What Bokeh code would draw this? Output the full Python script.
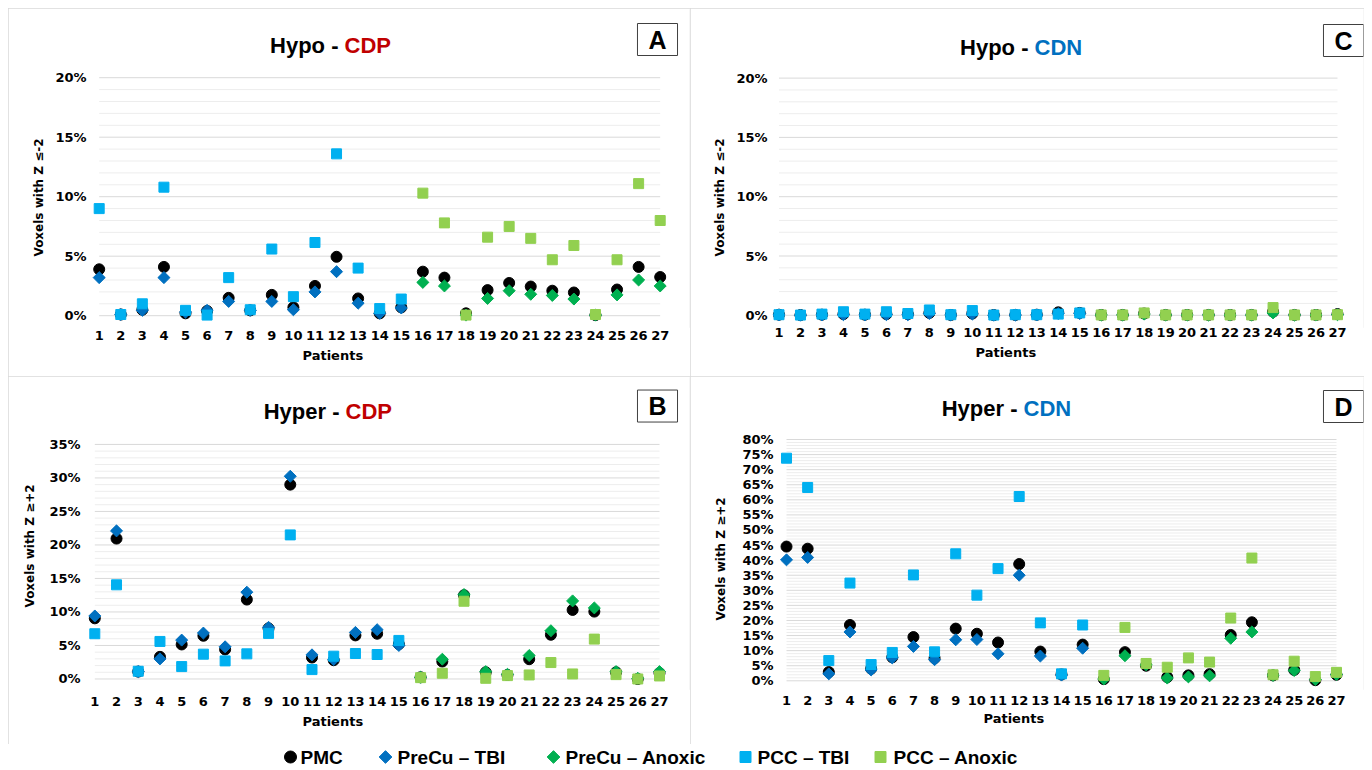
import numpy as np
from bokeh.plotting import figure
from bokeh.models import Range1d, FixedTicker, PrintfTickFormatter, Label, Title, ColumnDataSource, Spacer
from bokeh.layouts import column, row
from bokeh.embed import file_html
from bokeh.resources import INLINE
from bokeh.core.properties import value

# ---------------- data ----------------
patients = [1, 2, 3, 4, 5, 6, 7, 8, 9, 10, 11, 12, 13, 14, 15, 16, 17, 18, 19, 20, 21, 22, 23, 24, 25, 26, 27]
tbi_patients = [1, 2, 3, 4, 5, 6, 7, 8, 9, 10, 11, 12, 13, 14, 15]
anoxic_patients = [16, 17, 18, 19, 20, 21, 22, 23, 24, 25, 26, 27]

series_names = ["PMC", "PreCu \u2013 TBI", "PreCu \u2013 Anoxic", "PCC \u2013 TBI", "PCC \u2013 Anoxic"]
series_colors = ["#000000", "#0070C0", "#00B050", "#00B0F0", "#92D050"]

# Panel A: Hypo - CDP  (% voxels with Z <= -2)
hypo_cdp_pmc = [3.9, 0.1, 0.5, 4.1, 0.2, 0.4, 1.5, 0.45, 1.75, 0.7, 2.5, 4.95, 1.45, 0.2, 0.7,
                3.7, 3.2, 0.2, 2.15, 2.75, 2.45, 2.1, 1.95, 0.05, 2.2, 4.1, 3.25]
hypo_cdp_precu_tbi = [3.2, 0.1, 0.45, 3.2, 0.3, 0.45, 1.2, 0.45, 1.2, 0.5, 2.0, 3.7, 1.05, 0.2, 0.65]
hypo_cdp_pcc_tbi = [9.0, 0.1, 1.0, 10.8, 0.45, 0.05, 3.2, 0.5, 5.6, 1.6, 6.15, 13.6, 4.0, 0.6, 1.4]
hypo_cdp_precu_anox = [2.8, 2.5, 0.05, 1.45, 2.1, 1.8, 1.7, 1.4, 0.05, 1.75, 3.0, 2.5]
hypo_cdp_pcc_anox = [10.3, 7.8, 0.05, 6.6, 7.5, 6.5, 4.7, 5.9, 0.1, 4.7, 11.1, 8.0]

# Panel C: Hypo - CDN
hypo_cdn_pmc = [0.05, 0.02, 0.05, 0.1, 0.05, 0.1, 0.1, 0.2, 0.03, 0.15, 0.02, 0.03, 0.05, 0.25, 0.2,
                0.03, 0.03, 0.15, 0.03, 0.03, 0.03, 0.03, 0.03, 0.3, 0.03, 0.03, 0.1]
hypo_cdn_precu_tbi = [0.03, 0.01, 0.03, 0.05, 0.03, 0.05, 0.05, 0.15, 0.02, 0.1, 0.01, 0.02, 0.03, 0.15, 0.15]
hypo_cdn_pcc_tbi = [0.05, 0.02, 0.1, 0.3, 0.1, 0.3, 0.15, 0.45, 0.05, 0.4, 0.02, 0.05, 0.05, 0.1, 0.2]
hypo_cdn_precu_anox = [0.02, 0.02, 0.1, 0.02, 0.02, 0.02, 0.02, 0.02, 0.2, 0.02, 0.02, 0.05]
hypo_cdn_pcc_anox = [0.03, 0.03, 0.2, 0.03, 0.03, 0.03, 0.03, 0.03, 0.65, 0.03, 0.03, 0.05]

# Panel B: Hyper - CDP  (% voxels with Z >= +2)
hyper_cdp_pmc = [9.05, 20.95, 1.1, 3.3, 5.15, 6.45, 4.4, 11.85, 7.55, 29.0, 3.2, 2.8, 6.5, 6.75, 5.2,
                 0.25, 2.6, 12.5, 1.0, 0.6, 2.95, 6.6, 10.3, 10.05, 1.0, 0.0, 0.9]
hyper_cdp_precu_tbi = [9.4, 22.1, 1.1, 3.0, 5.8, 6.85, 4.8, 12.95, 7.7, 30.25, 3.6, 2.9, 6.95, 7.35, 5.0]
hyper_cdp_pcc_tbi = [6.75, 14.05, 1.15, 5.6, 1.85, 3.7, 2.7, 3.75, 6.8, 21.5, 1.4, 3.4, 3.8, 3.65, 5.75]
hyper_cdp_precu_anox = [0.25, 2.95, 12.6, 1.1, 0.7, 3.5, 7.2, 11.65, 10.6, 1.1, 0.1, 1.1]
hyper_cdp_pcc_anox = [0.2, 0.85, 11.6, 0.1, 0.5, 0.6, 2.45, 0.75, 5.95, 0.65, 0.0, 0.45]

# Panel D: Hyper - CDN
hyper_cdn_pmc = [44.5, 43.8, 2.9, 18.5, 4.0, 7.8, 14.5, 7.5, 17.3, 15.6, 12.7, 38.7, 9.7, 2.1, 12.0,
                 0.55, 9.5, 5.0, 1.2, 1.8, 2.2, 15.2, 19.4, 1.8, 3.6, 0.2, 2.0]
hyper_cdn_precu_tbi = [40.1, 40.9, 2.3, 16.2, 3.6, 7.6, 11.4, 7.0, 13.6, 13.7, 8.95, 35.0, 8.2, 1.9, 10.8]
hyper_cdn_pcc_tbi = [73.8, 64.1, 6.7, 32.4, 5.4, 9.4, 35.1, 9.6, 42.1, 28.4, 37.2, 61.1, 19.2, 2.3, 18.5]
hyper_cdn_precu_anox = [0.6, 8.3, 5.3, 0.9, 1.3, 1.65, 14.1, 16.2, 1.8, 3.4, 0.4, 2.1]
hyper_cdn_pcc_anox = [1.8, 17.7, 5.75, 4.5, 7.6, 6.2, 20.8, 40.7, 2.0, 6.5, 1.4, 2.8]

TICK_FONT = "DejaVu Sans"
TITLE_FONT = "Liberation Sans"
YLAB_HALF = 60      # approx. half length of the rotated y-axis title, px
XLAB_HALF = 30      # approx. half width of "Patients", px


def build_panel(geo, title_left, title_right, title_color, letter, ylabel, ymax,
                pmc, precu_tbi, pcc_tbi, precu_anox, pcc_anox):
    W, H = geo["W"], geo["H"]
    L, R, T, B = geo["L"], geo["R"], geo["T"], geo["B"]
    ox, oy = geo["ox"], geo["oy"]
    # frame edges in page pixels
    fl, fr, ft, fb = ox + L, ox + W - R, oy + T, oy + H - B
    # pixel scales derived from where first/last patient and 0 / ymax sit
    p_first, p_last = patients[0], patients[-1]
    xs = (geo["xlast"] - geo["xfirst"]) / (p_last - p_first)
    ys = (geo["y0"] - geo["ytop"]) / ymax
    x_lo = p_first - (geo["xfirst"] - fl) / xs
    x_hi = p_first + (fr - geo["xfirst"]) / xs
    y_lo = -(fb - geo["y0"]) / ys
    y_hi = (geo["y0"] - ft) / ys

    def dx(px):
        return p_first + (px - geo["xfirst"]) / xs

    def dy(py):
        return (geo["y0"] - py) / ys

    p = figure(width=W, height=H, x_range=Range1d(x_lo, x_hi), y_range=Range1d(y_lo, y_hi),
               output_backend="svg", toolbar_location=None, title=None,
               min_border_left=L, min_border_right=R, min_border_top=T, min_border_bottom=B)
    p.outline_line_color = None
    p.background_fill_color = "white"
    p.border_fill_color = "white"
    p.xgrid.visible = False
    p.ygrid.visible = False
    p.styles = {"outline": "1px solid #D9D9D9", "outline-offset": "-1px"}

    # grid lines spanning first..last patient like the original
    major = list(range(0, ymax + 1, 5))
    minor = [v for v in range(0, ymax + 1) if v % 5]
    p.segment(x0=[p_first] * len(minor), x1=[p_last] * len(minor), y0=minor, y1=minor,
              line_color="#EDEDED", line_width=1)
    p.segment(x0=[p_first] * len(major), x1=[p_last] * len(major), y0=major, y1=major,
              line_color="#D9D9D9", line_width=1)

    # axes
    p.xaxis.ticker = FixedTicker(ticks=patients)
    p.yaxis.ticker = FixedTicker(ticks=major)
    p.yaxis.formatter = PrintfTickFormatter(format="%d%%")
    for ax in (p.xaxis[0], p.yaxis[0]):
        ax.axis_line_color = None
        ax.major_tick_line_color = None
        ax.minor_tick_line_color = None
        ax.major_tick_out = 0
        ax.major_tick_in = 0
        ax.major_label_text_font = TICK_FONT
        ax.major_label_text_font_style = "bold"
        ax.major_label_text_font_size = "13px"
        ax.major_label_text_color = "#000000"
    p.xaxis.major_label_standoff = geo["xts"]
    p.yaxis.major_label_standoff = geo["yts"]

    # axis titles (side titles, start-aligned and offset like the original)
    p.add_layout(Title(text=ylabel, align="left", offset=fb - (geo["ylab_y"] + YLAB_HALF),
                       standoff=geo["ylab_so"], text_font=TICK_FONT, text_font_style="bold",
                       text_font_size="12px", text_color="#000000"), "left")
    p.add_layout(Title(text="Patients", align="left", offset=geo["xlab_x"] - XLAB_HALF - fl,
                       standoff=geo["xlab_so"], text_font=TICK_FONT, text_font_style="bold",
                       text_font_size="13px", text_color="#000000"), "below")

    # markers
    p.scatter(patients, pmc, marker="circle", size=11, color=series_colors[0])
    p.scatter(tbi_patients, precu_tbi, marker="square", angle=np.pi / 4, size=8.5, color=series_colors[1])
    p.scatter(anoxic_patients, precu_anox, marker="square", angle=np.pi / 4, size=8.5, color=series_colors[2])
    p.scatter(tbi_patients, pcc_tbi, marker="square", size=10, color=series_colors[3])
    p.scatter(anoxic_patients, pcc_anox, marker="square", size=10, color=series_colors[4])

    def add_label(text, px, py, align, color, size, **kw):
        p.add_layout(Label(x=dx(px), y=dy(py), text=text, text_align=align, text_baseline="middle",
                           text_color=color, text_font_size=size, text_font=TITLE_FONT,
                           text_font_style="bold", **kw))

    sx, ty = geo["split"], geo["ty"]
    add_label(title_left, sx - 6, ty, "right", "#000000", "22px")
    add_label(title_right, sx, ty, "left", title_color, "22px")
    add_label(letter, geo["bx"], geo["by"], "center", "#000000", "25px",
              border_line_color="#404040", border_line_width=1, background_fill_color="white",
              padding=dict(left=11, right=11, top=2, bottom=2))
    return p


geoA = dict(ox=8, oy=8, W=682, H=368, L=80, R=1, T=1, B=49,
            xfirst=98.7, xlast=659.7, y0=315.2, ytop=77.2, xts=3, yts=2,
            ylab_y=196, ylab_so=13, xlab_x=332, xlab_so=7,
            split=344, ty=45, bx=657, by=39)
geoC = dict(ox=690, oy=8, W=674, H=368, L=78, R=1, T=1, B=49,
            xfirst=778.5, xlast=1337.0, y0=314.8, ytop=77.6, xts=0, yts=1,
            ylab_y=196, ylab_so=13, xlab_x=1005, xlab_so=6,
            split=1034, ty=47, bx=1343, by=40)
geoB = dict(ox=8, oy=376, W=682, H=368, L=75, R=1, T=1, B=50,
            xfirst=94.3, xlast=659.0, y0=683.3, ytop=445.0, xts=7, yts=3,
            ylab_y=552, ylab_so=19, xlab_x=332, xlab_so=6,
            split=345, ty=412, bx=657, by=406)
geoD = dict(ox=690, oy=376, W=674, H=368, L=85, R=1, T=1, B=55,
            xfirst=786.0, xlast=1336.0, y0=680.3, ytop=439.0, xts=6, yts=2,
            ylab_y=560, ylab_so=23, xlab_x=1013, xlab_so=2,
            split=1023, ty=408, bx=1343, by=406)

pA = build_panel(geoA, "Hypo -", "CDP", "#C00000", "A", "Voxels with Z \u2264-2", 20,
                 hypo_cdp_pmc, hypo_cdp_precu_tbi, hypo_cdp_pcc_tbi, hypo_cdp_precu_anox, hypo_cdp_pcc_anox)
pC = build_panel(geoC, "Hypo -", "CDN", "#0070C0", "C", "Voxels with Z \u2264-2", 20,
                 hypo_cdn_pmc, hypo_cdn_precu_tbi, hypo_cdn_pcc_tbi, hypo_cdn_precu_anox, hypo_cdn_pcc_anox)
pB = build_panel(geoB, "Hyper -", "CDP", "#C00000", "B", "Voxels with Z \u2265+2", 35,
                 hyper_cdp_pmc, hyper_cdp_precu_tbi, hyper_cdp_pcc_tbi, hyper_cdp_precu_anox, hyper_cdp_pcc_anox)
pD = build_panel(geoD, "Hyper -", "CDN", "#0070C0", "D", "Voxels with Z \u2265+2", 80,
                 hyper_cdn_pmc, hyper_cdn_precu_tbi, hyper_cdn_pcc_tbi, hyper_cdn_precu_anox, hyper_cdn_pcc_anox)

# ---------------- legend row ----------------
LEG_W, LEG_H = 1356, 25
leg = figure(width=LEG_W, height=LEG_H, x_range=Range1d(0, LEG_W), y_range=Range1d(0, LEG_H),
             output_backend="svg", toolbar_location=None, min_border=0, title=None,
             x_axis_type=None, y_axis_type=None)
leg.outline_line_color = None
leg.grid.visible = False
legend_marker_x = [282, 377, 545, 737, 872]
legend_text_x = [292, 389, 557, 749, 885]
legend_src = ColumnDataSource(dict(
    x=legend_marker_x, y=[LEG_H / 2] * 5,
    marker=["circle", "square", "square", "square", "square"],
    angle=[0, np.pi / 4, np.pi / 4, 0, 0],
    size=[12, 9, 9, 11, 11],
    color=series_colors))
leg.scatter(x="x", y="y", marker="marker", angle="angle", size="size", color="color", source=legend_src)
leg.text(x=legend_text_x, y=[LEG_H / 2] * 5, text=series_names, text_baseline="middle", text_align="left",
         text_font=value(TITLE_FONT), text_font_style="bold", text_font_size="19px", text_color="#000000")

layout = column(Spacer(height=8),
                row(Spacer(width=8), pA, pC),
                row(Spacer(width=8), pB, pD),
                row(Spacer(width=8), leg))
open("out.html", "w").write(file_html(layout, INLINE, title="Voxels by patient"))
